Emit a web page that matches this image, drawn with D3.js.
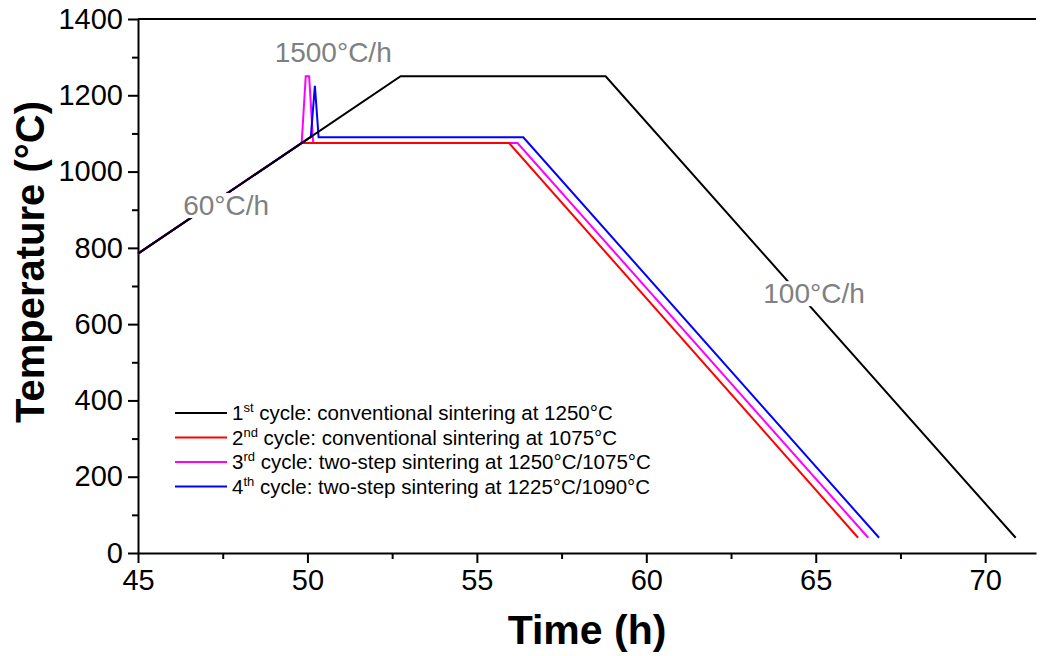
<!DOCTYPE html>
<html>
<head>
<meta charset="utf-8">
<script src="https://cdn.jsdelivr.net/npm/d3@7"></script>
<style>
  body { margin: 0; background: #fff; }
  svg { display: block; font-family: "Liberation Sans", Arial, sans-serif; }
</style>
</head>
<body>
<svg id="chart" width="1042" height="656"></svg>
<script>
// ---- data (time in h, temperature in °C) ----
const cycle1 = [[45, 785], [52.75, 1250], [58.8, 1250], [70.9, 40]];
const cycle2 = [[45, 785], [49.83, 1075], [55.95, 1075], [66.25, 40]];
const cycle3 = [[45, 785], [49.83, 1075], [49.95, 1250], [50.05, 1250], [50.17, 1075], [56.2, 1075], [66.55, 40]];
const cycle4 = [[45, 785], [50.1, 1091], [50.22, 1225], [50.33, 1090], [56.37, 1090], [66.87, 40]];

const seriesNames = ["cycle: conventional sintering at 1250°C",
                     "cycle: conventional sintering at 1075°C",
                     "cycle: two-step sintering at 1250°C/1075°C",
                     "cycle: two-step sintering at 1225°C/1090°C"];
const ordinals = [["1", "st"], ["2", "nd"], ["3", "rd"], ["4", "th"]];
const seriesColors = ["#000000", "#ff0000", "#ff00ff", "#0000ff"];

const xTicks = [45, 50, 55, 60, 65, 70];
const xMinorTicks = [47.5, 52.5, 57.5, 62.5, 67.5];
const yTicks = [0, 200, 400, 600, 800, 1000, 1200, 1400];
const yMinorTicks = [100, 300, 500, 700, 900, 1100, 1300];

const rateLabels = ["60°C/h", "1500°C/h", "100°C/h"];
const rateLabelAnchors = [[47.6, 886], [50.76, 1287], [64.95, 655]];

// ---- layout ----
const svg = d3.select("#chart");
const x = d3.scaleLinear().domain([45, 71.5]).range([138, 1036]);
const y = d3.scaleLinear().domain([0, 1400]).range([553, 19]);

const axisColor = "#000";

// top frame line
svg.append("line")
  .attr("x1", x(45)).attr("x2", x(71.5))
  .attr("y1", y(1400)).attr("y2", y(1400))
  .attr("stroke", axisColor).attr("stroke-width", 2);

// X axis
svg.append("g").attr("transform", `translate(0,${y(0)})`)
  .call(d3.axisBottom(x).tickValues(xTicks).tickFormat(d3.format("d"))
    .tickSize(10).tickPadding(6).tickSizeOuter(0));
svg.append("g").attr("transform", `translate(0,${y(0)})`)
  .call(d3.axisBottom(x).tickValues(xMinorTicks).tickSize(6).tickFormat("").tickSizeOuter(0))
  .call(g => g.select(".domain").remove());

// Y axis
svg.append("g").attr("transform", `translate(${x(45)},0)`)
  .call(d3.axisLeft(y).tickValues(yTicks).tickFormat(d3.format("d"))
    .tickSize(10).tickPadding(5).tickSizeOuter(0));
svg.append("g").attr("transform", `translate(${x(45)},0)`)
  .call(d3.axisLeft(y).tickValues(yMinorTicks).tickSize(6).tickFormat("").tickSizeOuter(0))
  .call(g => g.select(".domain").remove());

svg.selectAll(".domain").attr("stroke", axisColor).attr("stroke-width", 2);
svg.selectAll(".tick line").attr("stroke", axisColor).attr("stroke-width", 2);
svg.selectAll(".tick text").attr("font-size", 29).attr("fill", "#000")
  .attr("font-family", "'Liberation Sans', Arial, sans-serif");

// axis titles
svg.append("text")
  .attr("x", 587).attr("y", 644)
  .attr("text-anchor", "middle").attr("font-size", 41).attr("font-weight", "bold")
  .text("Time (h)");
svg.append("text")
  .attr("transform", `translate(44,262) rotate(-90)`)
  .attr("text-anchor", "middle").attr("font-size", 40).attr("font-weight", "bold")
  .text("Temperature (°C)");

// rate annotations
rateLabels.forEach((t, i) => {
  const [tx, ty] = rateLabelAnchors[i];
  svg.append("g").attr("class", "rate").append("text")
    .attr("x", x(tx)).attr("y", y(ty))
    .attr("text-anchor", "middle").attr("font-size", 28).attr("fill", "#808080")
    .text(t);
});

// lines
const line = d3.line().x(d => x(d[0])).y(d => y(d[1]));
const allSeries = [cycle1, cycle2, cycle3, cycle4];
const drawOrder = [2, 1, 3, 0];
const linesG = svg.append("g");
drawOrder.forEach(i => {
  linesG.append("path").datum(allSeries[i])
    .attr("d", line).attr("fill", "none")
    .attr("stroke", seriesColors[i]).attr("stroke-width", 2)
    .attr("stroke-linejoin", "miter");
});

// annotation labels above lines, white background for those lying on a line
svg.selectAll("g.rate").each(function(d, i) {
  const g = d3.select(this);
  const bb = this.getBBox();
  if (i !== 1) {
    g.insert("rect", "text")
      .attr("x", bb.x - 2).attr("y", bb.y + 3)
      .attr("width", bb.width + 4).attr("height", bb.height - 6)
      .attr("fill", "#fff");
  }
  this.parentNode.appendChild(this);
});

// legend
const legend = svg.append("g");
seriesNames.forEach((name, i) => {
  const cy = 413 + i * 24.5;
  legend.append("line")
    .attr("x1", 175).attr("x2", 227).attr("y1", cy).attr("y2", cy)
    .attr("stroke", seriesColors[i]).attr("stroke-width", 2);
  const t = legend.append("text").attr("x", 232).attr("y", cy + 7).attr("font-size", 20.5);
  t.append("tspan").text(ordinals[i][0]);
  t.append("tspan").attr("font-size", 13).attr("dy", -8).text(ordinals[i][1]);
  t.append("tspan").attr("dy", 8).text(" " + name);
});
</script>
</body>
</html>
